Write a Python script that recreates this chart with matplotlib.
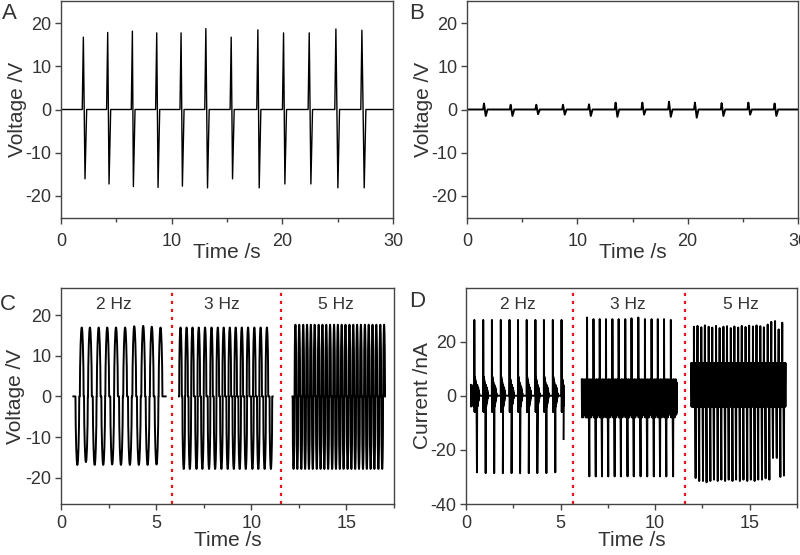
import numpy as np
import matplotlib
matplotlib.use('Agg')
import matplotlib.pyplot as plt

plt.rcParams['font.family'] = ['Liberation Sans', 'DejaVu Sans']
plt.rcParams['axes.unicode_minus'] = False
TXT = '#333333'

# ---------------- Panel A: voltage spikes (V) ----------------
A_pos_t = [2.02, 4.22, 6.45, 8.65, 10.85, 13.09, 15.38, 17.79, 20.11, 22.43, 24.84, 27.19]
A_pos_v = [16.8, 17.9, 18.2, 17.8, 17.8, 18.8, 16.8, 18.5, 17.8, 17.8, 18.7, 18.4]
A_neg_t = [2.17, 4.34, 6.54, 8.77, 10.97, 13.24, 15.50, 17.91, 20.23, 22.58, 25.02, 27.40]
A_neg_v = [-16.1, -17.3, -17.9, -18.1, -17.8, -18.2, -16.1, -18.2, -17.3, -17.3, -18.2, -18.2]

# ---------------- Panel B: small voltage pulses (V) ----------------
B_t = [1.54, 3.96, 6.28, 8.70, 11.06, 13.47, 15.89, 18.31, 20.66, 23.08, 25.50, 27.88]
B_pos_v = [1.4, 1.1, 1.1, 1.1, 1.2, 1.6, 1.6, 1.8, 1.6, 1.5, 1.6, 1.4]
B_neg_v = [-1.5, -1.5, -1.1, -1.2, -1.5, -1.7, -1.2, -1.7, -1.9, -1.5, -1.2, -1.5]

# ---------------- Panel C: voltage at 2, 3, 5 Hz ----------------
C2_pos_t = [1.09, 1.52, 1.98, 2.43, 2.89, 3.37, 3.85, 4.32, 4.77, 5.23]
C2_pos_v = [17.0, 17.0, 17.0, 17.0, 17.0, 17.0, 17.3, 17.4, 17.2, 17.0]
C2_neg_t = [0.86, 1.31, 1.77, 2.22, 2.69, 3.15, 3.62, 4.09, 4.55, 5.02]
C2_neg_v = [-16.9, -16.2, -16.9, -16.9, -16.8, -16.9, -16.9, -16.9, -16.9, -16.8]
C2_span = [0.65, 5.50]

C3_pos_t = [6.28, 6.60, 6.91, 7.24, 7.57, 7.91, 8.24, 8.55, 8.87, 9.18, 9.50, 9.83, 10.16, 10.49, 10.82]
C3_pos_v = [17.0, 17.0, 17.0, 17.0, 17.0, 17.0, 17.0, 17.0, 17.0, 17.0, 17.0, 17.0, 17.0, 17.0, 17.0]
C3_neg_t = [6.45, 6.77, 7.12, 7.43, 7.78, 8.10, 8.43, 8.76, 9.08, 9.39, 9.71, 10.06, 10.37, 10.70, 11.03]
C3_neg_v = [-17.9, -17.9, -17.9, -17.9, -17.9, -17.9, -17.9, -17.9, -17.9, -17.9, -17.9, -17.9, -17.9, -17.9, -17.9]
C3_span = [6.20, 11.12]

C5_neg_t = [12.22, 12.42, 12.63, 12.83, 13.03, 13.23, 13.44, 13.64, 13.84, 14.04, 14.25, 14.45,
            14.65, 14.85, 15.06, 15.26, 15.46, 15.66, 15.87, 16.07, 16.27, 16.47, 16.68, 16.88]
C5_neg_v = [-17.9] * 24
C5_pos_t = [12.32, 12.52, 12.73, 12.93, 13.13, 13.33, 13.54, 13.74, 13.94, 14.14, 14.35, 14.55,
            14.75, 14.95, 15.16, 15.36, 15.56, 15.76, 15.97, 16.17, 16.37, 16.57, 16.78, 16.98]
C5_pos_v = [17.7] * 24
C5_span = [12.17, 17.03]

# ---------------- Panel D: current at 2, 3, 5 Hz (nA) ----------------
D2_pos_t = [0.44, 0.91, 1.37, 1.84, 2.30, 2.75, 3.21, 3.67, 4.12, 4.59, 5.05]
D2_pos_v = [28.0, 28.0, 28.0, 28.0, 28.0, 28.0, 28.0, 28.0, 28.0, 28.0, 28.0]
D2_neg_t = [0.58, 1.04, 1.49, 1.95, 2.41, 2.86, 3.32, 3.77, 4.25, 4.72, 5.16]
D2_neg_v = [-28.3, -28.6, -28.6, -28.6, -28.6, -28.6, -28.6, -28.6, -28.6, -28.3, -16.0]
D2_ring_pos = [-6, 7, -6, 6, -5, 5, -4, 4, -3]
D2_ring_neg = [4, -4, 3, -3, 3, -2, 2, -1, 1, 0]
D2_span = [0.26, 5.16]

D3_pos_t = [6.40, 6.74, 7.07, 7.40, 7.74, 8.07, 8.42, 8.75, 9.11, 9.46, 9.81, 10.14, 10.47, 10.83]
D3_pos_v = [28.9, 28.3, 28.3, 28.3, 28.3, 28.3, 28.3, 28.6, 28.9, 28.3, 28.3, 28.3, 28.3, 28.0]
D3_neg_t = [6.52, 6.86, 7.19, 7.52, 7.86, 8.19, 8.54, 8.87, 9.23, 9.58, 9.93, 10.26, 10.59, 10.95]
D3_neg_v = [-29.8, -29.8, -29.8, -29.8, -29.8, -29.8, -29.8, -29.8, -29.8, -29.8, -29.8, -29.8, -29.8, -29.8]
D3_ring_pos = [-8, 6, -7, 6, -8, 5, -7]
D3_ring_neg = [6, -8, 6, -7, 5, -8, 6, -7, 5, -6, 6, -7, 5, -6]
D3_span = [6.12, 11.09]

D5_pos_t = [12.05, 12.24, 12.44, 12.63, 12.83, 13.02, 13.22, 13.41, 13.61, 13.80, 14.00, 14.19, 14.39,
            14.58, 14.78, 14.97, 15.17, 15.36, 15.56, 15.75, 15.95, 16.14, 16.34, 16.53, 16.72]
D5_pos_v = [25.5, 25.8, 25.3, 26.0, 25.5, 25.2, 25.8, 25.0, 25.5, 25.7, 25.0, 25.6, 25.2,
            25.8, 25.4, 25.9, 25.6, 26.0, 25.7, 25.3, 26.3, 27.3, 27.6, 24.5, 27.0]
D5_neg_t = [12.14, 12.33, 12.53, 12.72, 12.92, 13.11, 13.31, 13.50, 13.70, 13.89, 14.09, 14.28, 14.48,
            14.67, 14.87, 15.06, 15.26, 15.45, 15.65, 15.84, 16.04, 16.23, 16.43, 16.62, 16.81]
D5_neg_v = [-30.4, -31.5, -31.5, -32.0, -31.5, -31.0, -31.5, -31.0, -31.5, -31.0, -31.5, -31.0, -31.5,
            -31.0, -31.5, -31.0, -31.5, -31.0, -31.0, -30.5, -31.0, -23.0, -23.0, -30.0, -29.5]
D5_ring_pos = [-4, 12, -4, 12, -4]
D5_ring_neg = [12, -4, 12, -4, 12, -4, 12]
D5_span = [11.91, 16.88]

freq_labels = ['2 Hz', '3 Hz', '5 Hz']
C_label_t = [2.8, 8.48, 14.43]
D_label_t = [2.75, 8.54, 14.51]
C_sep_t = [5.84, 11.58]
D_sep_t = [5.68, 11.56]


def pulses(span, pos_t, pos_v, neg_t, neg_v, rise, fall):
    ts, vs = [span[0]], [0.0]
    for tp, p, tn, n in zip(pos_t, pos_v, neg_t, neg_v):
        ts += [tp - rise, tp, tn, tn + fall]
        vs += [0.0, p, n, 0.0]
    ts.append(span[1]); vs.append(0.0)
    return np.array(ts), np.array(vs)


def lobes(span, centers, amps, hw, expo, n=16):
    ts, vs = [span[0]], [0.0]
    u = np.linspace(0, 1, n)
    for c, a in sorted(zip(centers, amps)):
        ts.extend(c - hw + 2 * hw * u)
        vs.extend(a * np.sin(np.pi * u) ** expo)
    ts.append(span[1]); vs.append(0.0)
    return np.array(ts), np.array(vs)


def cycles(span, pos_t, pos_v, neg_t, neg_v, ring_p, ring_n, step, fill_start, last_ring=True):
    ts, vs = [], []
    if fill_start:
        k = 0
        tcur = span[0]
        while tcur < pos_t[0] - 0.006:
            ts.append(tcur); vs.append(ring_n[k % len(ring_n)])
            k += 1
            tcur += step
    else:
        ts.append(span[0]); vs.append(ring_n[-1])
    N = len(pos_t)
    for i, (tp, p, tn, n) in enumerate(zip(pos_t, pos_v, neg_t, neg_v)):
        ts.append(tp - 0.004); vs.append(vs[-1])
        ts.append(tp); vs.append(p)
        for k, r in enumerate(ring_p):
            ts.append(tp + step * (k + 1)); vs.append(r)
        ts.append(tn); vs.append(n)
        if i < N - 1 or last_ring:
            for k, r in enumerate(ring_n):
                ts.append(tn + step * (k + 1)); vs.append(r)
    if last_ring:
        ts.append(span[1]); vs.append(vs[-1])
    return np.array(ts), np.array(vs)


W, H = 800, 555
fig = plt.figure(figsize=(W / 100, H / 100), dpi=100)


def make_ax(l, r, t, b):
    return fig.add_axes([l / W, 1 - b / H, (r - l) / W, (b - t) / H])


axA = make_ax(61, 393, 1, 218)
axB = make_ax(467, 798, 1, 218)
axC = make_ax(61, 394, 288, 504)
axD = make_ax(466, 797, 288, 504)

for ax in (axA, axB, axC, axD):
    for s in ax.spines.values():
        s.set_color('#444444')
        s.set_linewidth(1.0)
    ax.tick_params(direction='out', length=4, width=1, color='#444444',
                   labelcolor=TXT, labelsize=13, top=False, right=False)
    ax.tick_params(axis='x', which='minor', direction='out', length=3, width=1, color='#444444')
    ax.tick_params(axis='y', pad=3)

# Panel A
t, v = pulses([0, 30], A_pos_t, A_pos_v, A_neg_t, A_neg_v, 0.10, 0.15)
axA.plot(t, v, color='black', lw=1.0)
# Panel B
B_neg_t = [x + 0.16 for x in B_t]
t, v = pulses([0, 30], B_t, B_pos_v, B_neg_t, B_neg_v, 0.08, 0.16)
axB.plot(t, v, color='black', lw=1.4)

for ax in (axA, axB):
    ax.set_xlim(0, 30)
    ax.set_ylim(-25.2, 25.2)
    ax.set_xticks([0, 10, 20, 30])
    ax.set_xticks([5, 15, 25], minor=True)
    ax.set_yticks([-20, -10, 0, 10, 20])
    ax.tick_params(axis='x', pad=6.5)
    ax.set_xlabel('Time /s', fontsize=15, color=TXT, va='top')
    ax.set_ylabel('Voltage /V', fontsize=15, color=TXT)
    ax.xaxis.set_label_coords(0.5, -0.115)
axA.yaxis.set_label_coords(-0.102, 0.5)
axB.yaxis.set_label_coords(-0.103, 0.5)

# Panel C
for span, pt, pv, nt, nv, hw, ex in [
        (C2_span, C2_pos_t, C2_pos_v, C2_neg_t, C2_neg_v, 0.10, 0.55),
        (C3_span, C3_pos_t, C3_pos_v, C3_neg_t, C3_neg_v, 0.07, 0.45),
        (C5_span, C5_pos_t, C5_pos_v, C5_neg_t, C5_neg_v, 0.045, 0.45)]:
    t, v = lobes(span, list(pt) + list(nt), list(pv) + list(nv), hw, ex)
    axC.plot(t, v, color='black', lw=1.4)
axC.set_xlim(0, 17.5)
axC.set_ylim(-26.5, 26.7)
axC.set_yticks([-20, -10, 0, 10, 20])
axC.set_ylabel('Voltage /V', fontsize=15, color=TXT)
axC.yaxis.set_label_coords(-0.108, 0.5)

# Panel D
for span, pt, pv, nt, nv, rp, rn, st, fs, lr in [
        (D2_span, D2_pos_t, D2_pos_v, D2_neg_t, D2_neg_v, D2_ring_pos, D2_ring_neg, 0.013, True, False),
        (D3_span, D3_pos_t, D3_pos_v, D3_neg_t, D3_neg_v, D3_ring_pos, D3_ring_neg, 0.014, True, True),
        (D5_span, D5_pos_t, D5_pos_v, D5_neg_t, D5_neg_v, D5_ring_pos, D5_ring_neg, 0.013, True, True)]:
    t, v = cycles(span, pt, pv, nt, nv, rp, rn, st, fs, lr)
    axD.plot(t, v, color='black', lw=1.4)
axD.set_xlim(0, 17.5)
axD.set_ylim(-40, 39.8)
axD.set_yticks([-40, -20, 0, 20])
axD.set_ylabel('Current /nA', fontsize=15, color=TXT)
axD.yaxis.set_label_coords(-0.103, 0.5)

for ax, seps, lts, ly in [(axC, C_sep_t, C_label_t, 22.7), (axD, D_sep_t, D_label_t, 33.7)]:
    ax.set_xticks([0, 5, 10, 15])
    ax.set_xticks([2.5, 7.5, 12.5, 17.5], minor=True)
    ax.tick_params(axis='x', pad=3.6)
    ax.set_xlabel('Time /s', fontsize=15, color=TXT, va='top')
    ax.xaxis.set_label_coords(0.5, -0.125)
    for s in seps:
        ax.axvline(s, color='#e8151b', lw=1.6, ls=(0, (1.4, 2.2)))
    for lab, x in zip(freq_labels, lts):
        ax.text(x, ly, lab, fontsize=12.5, color=TXT, ha='center', va='center')

for lab, x, y in [('A', 2, 3), ('B', 409, 3), ('C', 0, 294), ('D', 409, 291)]:
    fig.text(x / W, 1 - y / H, lab, fontsize=16, color=TXT, ha='left', va='top')

fig.savefig('out.png', dpi=100)
